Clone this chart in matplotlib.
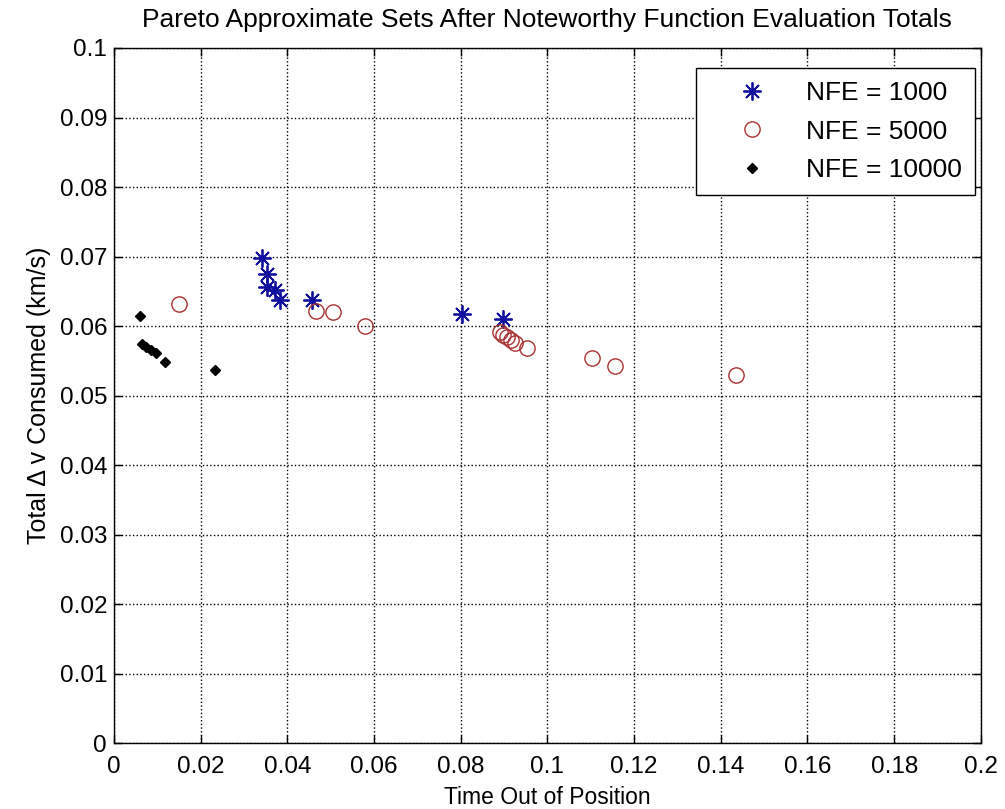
import matplotlib
matplotlib.use("Agg")
import matplotlib.pyplot as plt

plt.rcParams['font.family'] = ['Liberation Sans', 'DejaVu Sans']

# NFE = 1000
x_1000 = [0.0341, 0.0353, 0.0353, 0.0372, 0.0384, 0.0458, 0.0804, 0.0897]
y_1000 = [0.0698, 0.0675, 0.0657, 0.0652, 0.0638, 0.0638, 0.0618, 0.0611]

# NFE = 5000
x_5000 = [0.0150, 0.0465, 0.0505, 0.0580, 0.0891, 0.0897, 0.0906, 0.0916,
          0.0925, 0.0953, 0.1103, 0.1157, 0.1436]
y_5000 = [0.0632, 0.0622, 0.0621, 0.0600, 0.0592, 0.0588, 0.0584, 0.0580,
          0.0576, 0.0569, 0.0554, 0.0543, 0.0530]

# NFE = 10000
x_10000 = [0.0060, 0.0064, 0.0075, 0.0086, 0.0098, 0.0118, 0.0232]
y_10000 = [0.0615, 0.0575, 0.0570, 0.0566, 0.0561, 0.0549, 0.0537]

x_ticks = [0, 0.02, 0.04, 0.06, 0.08, 0.1, 0.12, 0.14, 0.16, 0.18, 0.2]
x_labels = ['0', '0.02', '0.04', '0.06', '0.08', '0.1', '0.12', '0.14',
            '0.16', '0.18', '0.2']
y_ticks = [0, 0.01, 0.02, 0.03, 0.04, 0.05, 0.06, 0.07, 0.08, 0.09, 0.1]
y_labels = ['0', '0.01', '0.02', '0.03', '0.04', '0.05', '0.06', '0.07',
            '0.08', '0.09', '0.1']

fig = plt.figure(figsize=(10.05, 8.09), dpi=100)
ax = fig.add_axes([0.1134, 0.081, 0.8626, 0.8597])

ax.plot(x_1000, y_1000, linestyle='none', marker=(8, 2, 0), markersize=13,
        markeredgecolor='#1010a0', markeredgewidth=1.3, label='NFE = 1000')
ax.plot(x_5000, y_5000, linestyle='none', marker='o', markersize=11,
        markerfacecolor='none', markeredgecolor='#a83030', markeredgewidth=1.0,
        label='NFE = 5000')
ax.plot(x_10000, y_10000, linestyle='none', marker='D', markersize=5,
        color='black', label='NFE = 10000')

ax.set_xlim(0, 0.2)
ax.set_ylim(0, 0.1)
ax.set_xticks(x_ticks)
ax.set_xticklabels(x_labels)
ax.set_yticks(y_ticks)
ax.set_yticklabels(y_labels)
ax.tick_params(direction='in', top=True, right=True, length=6, labelsize=17.5,
               width=1)
ax.tick_params(axis='x', pad=9)
ax.tick_params(axis='y', pad=5)
ax.grid(True, linestyle=':', color='black', linewidth=1)
for s in ax.spines.values():
    s.set_linewidth(1)

ax.set_title('Pareto Approximate Sets After Noteworthy Function Evaluation Totals',
             fontsize=19, pad=15)
ax.set_xlabel('Time Out of Position', fontsize=16.5, labelpad=6)
ax.set_ylabel('Total \u0394 v Consumed (km/s)', fontsize=18, labelpad=6)

leg = ax.legend(loc='upper right', bbox_to_anchor=(0.970, 0.916),
                bbox_transform=fig.transFigure, borderaxespad=0,
                fontsize=19, frameon=True, fancybox=False,
                edgecolor='black', framealpha=1, handlelength=3.2,
                handletextpad=0.45, labelspacing=0.55, borderpad=0.5)
leg.get_frame().set_linewidth(1)

fig.savefig('out.png', dpi=100)
